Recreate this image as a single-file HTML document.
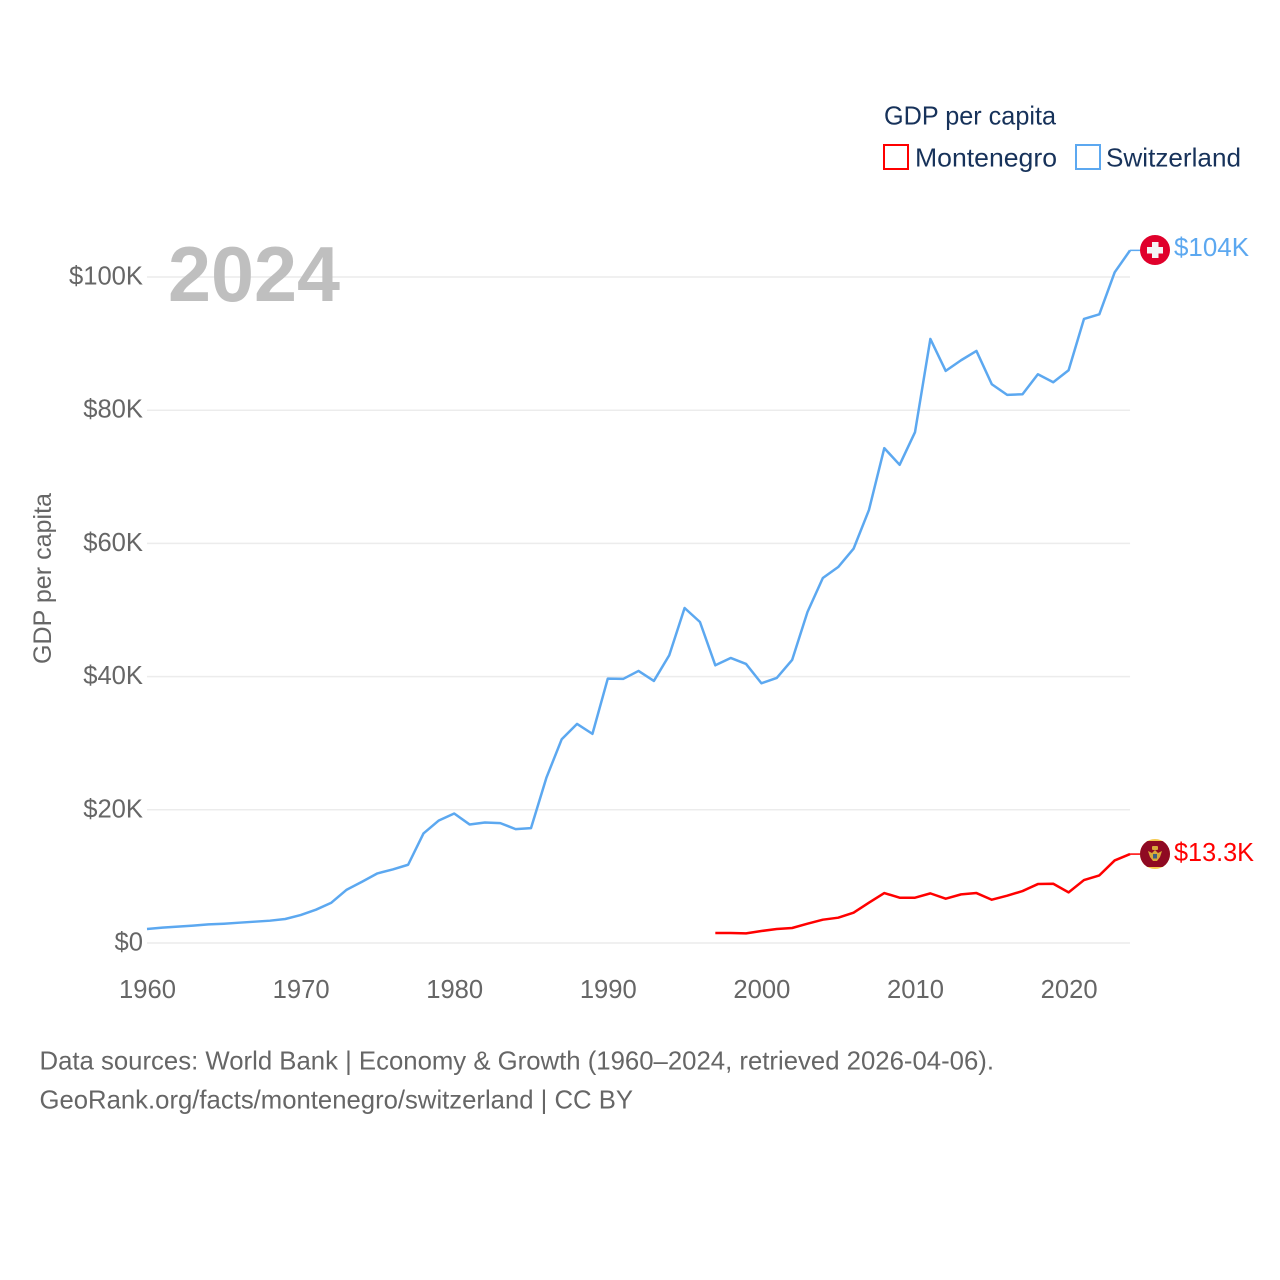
<!DOCTYPE html>
<html lang="en">
<head>
<meta charset="utf-8">
<title>GDP per capita: Montenegro and Switzerland</title>
<style>
html,body{margin:0;padding:0;background:#fff}
svg{display:block}
text{font-family:"Liberation Sans",sans-serif}
.tick{font-size:25.6px;fill:#666}
.legend{font-size:26px;fill:#17325a}
.foot{font-size:26px;fill:#666}
</style>
</head>
<body>
<svg id="chart" xmlns="http://www.w3.org/2000/svg" width="1280" height="1280" viewBox="0 0 1280 1280">
  <rect width="1280" height="1280" fill="#fff"/>
  <g id="grid"></g>
  <g id="yticks"></g>
  <g id="xticks"></g>
  <text x="168" y="301" font-size="78" font-weight="700" fill="#bfbfbf" textLength="172" lengthAdjust="spacingAndGlyphs">2024</text>
  <text transform="translate(51,664) rotate(-90)" font-size="25" fill="#666" textLength="171" lengthAdjust="spacingAndGlyphs">GDP per capita</text>

  <g id="series"></g>

  <g>
    <circle cx="1155" cy="250" r="15" fill="#e0002b"/>
    <rect x="1152" y="242" width="6.5" height="16" fill="#f4f4f4"/>
    <rect x="1147" y="247" width="16" height="6.5" fill="#f4f4f4"/>
  </g>
  <g>
    <clipPath id="me-clip"><circle cx="1155" cy="854" r="15"/></clipPath>
    <g clip-path="url(#me-clip)">
      <rect x="1140" y="839" width="30" height="30" fill="#f5c94e"/>
      <rect x="1140" y="841" width="30" height="26" fill="#8f0a22"/>
    </g>
    <path d="M1148 851 L1152 853 L1155 850 L1158 853 L1162 851 L1160 857 L1157 861 L1153 861 L1150 857 Z" fill="#d9a93a"/>
    <rect x="1152" y="846" width="6" height="4" rx="1" fill="#d9a93a"/>
    <rect x="1153" y="854" width="4" height="4.5" fill="#3f6080"/>
  </g>
  <text id="label-ch" x="1174" y="256" font-size="26" fill="#5ca8f0" textLength="75" lengthAdjust="spacingAndGlyphs">$104K</text>
  <text id="label-me" x="1174" y="861" font-size="26" fill="#ff0000" textLength="80" lengthAdjust="spacingAndGlyphs">$13.3K</text>

  <g>
    <text class="legend" x="884" y="124.5" textLength="172" lengthAdjust="spacingAndGlyphs">GDP per capita</text>
    <g>
      <rect x="884" y="145" width="24" height="24" fill="#fff" stroke="#ff0000" stroke-width="2"/>
      <text class="legend" x="915" y="166.5" textLength="142" lengthAdjust="spacingAndGlyphs">Montenegro</text>
    </g>
    <g>
      <rect x="1076" y="145" width="24" height="24" fill="#fff" stroke="#5ca8f0" stroke-width="2"/>
      <text class="legend" x="1106" y="166.5" textLength="135" lengthAdjust="spacingAndGlyphs">Switzerland</text>
    </g>
  </g>

  <text class="foot" x="39.5" y="1069.5" textLength="954.5" lengthAdjust="spacingAndGlyphs">Data sources: World Bank | Economy &amp; Growth (1960–2024, retrieved 2026-04-06).</text>
  <text class="foot" x="39.5" y="1108.5" textLength="593.5" lengthAdjust="spacingAndGlyphs">GeoRank.org/facts/montenegro/switzerland | CC BY</text>
</svg>
<script>
const switzerlandStartYear = 1960;
const switzerlandValues = [2.1,2.3,2.45,2.6,2.8,2.9,3.05,3.2,3.35,3.6,4.2,5.0,6.05,8.0,9.2,10.45,11.05,11.75,16.45,18.4,19.45,17.8,18.1,18.0,17.1,17.25,24.8,30.6,32.9,31.4,39.7,39.65,40.85,39.35,43.2,50.3,48.2,41.7,42.8,41.9,39.0,39.8,42.5,49.7,54.8,56.45,59.2,65.0,74.3,71.8,76.7,90.7,85.9,87.5,88.9,83.9,82.3,82.4,85.4,84.2,86.0,93.7,94.4,100.7,104.0];
const montenegroStartYear = 1997;
const montenegroValues = [1.5,1.5,1.45,1.8,2.1,2.25,2.9,3.5,3.8,4.55,6.05,7.5,6.8,6.8,7.45,6.65,7.3,7.5,6.5,7.1,7.8,8.85,8.9,7.6,9.45,10.15,12.4,13.35];
const yTickValues = [0,20,40,60,80,100];
const yTickLabels = ["$0","$20K","$40K","$60K","$80K","$100K"];
const xTickValues = [1960,1970,1980,1990,2000,2010,2020];
const xTickLabels = ["1960","1970","1980","1990","2000","2010","2020"];

const NS = 'http://www.w3.org/2000/svg';
const xScale = year => 147 + (year - 1960) * 15.36;
const yScale = value => 943 - value * 6.66;
const leaderEnd = 1140;

const grid = document.getElementById('grid');
const yticks = document.getElementById('yticks');
const xticks = document.getElementById('xticks');
const series = document.getElementById('series');

yTickValues.forEach((v, i) => {
  const line = document.createElementNS(NS, 'line');
  
  
  line.setAttribute('x1', xScale(1960));
  line.setAttribute('x2', xScale(2024));
  line.setAttribute('y1', yScale(v));
  line.setAttribute('y2', yScale(v));
  line.setAttribute('stroke', '#ececec');
  line.setAttribute('stroke-width', '1.5');
  grid.appendChild(line);

  const t = document.createElementNS(NS, 'text');
  
  
  t.setAttribute('class', 'tick');
  t.setAttribute('x', 143);
  t.setAttribute('y', yScale(v) + 7.5);
  t.setAttribute('text-anchor', 'end');
  t.textContent = yTickLabels[i];
  yticks.appendChild(t);
});

xTickValues.forEach((yr, i) => {
  const t = document.createElementNS(NS, 'text');
  
  
  t.setAttribute('class', 'tick');
  t.setAttribute('x', xScale(yr) + 0.5);
  t.setAttribute('y', 998);
  t.setAttribute('text-anchor', 'middle');
  t.textContent = xTickLabels[i];
  xticks.appendChild(t);
});

function drawSeries(values, startYear, color, name) {
  const pts = values.map((v, i) => xScale(startYear + i).toFixed(2) + ',' + yScale(v).toFixed(2));
  const path = document.createElementNS(NS, 'polyline');
  
  
  path.setAttribute('points', pts.join(' '));
  path.setAttribute('fill', 'none');
  path.setAttribute('stroke', color);
  path.setAttribute('stroke-width', '2.5');
  path.setAttribute('stroke-linejoin', 'round');
  series.appendChild(path);

  const last = values[values.length - 1];
  const leader = document.createElementNS(NS, 'line');
  
  
  leader.setAttribute('x1', xScale(startYear + values.length - 1));
  leader.setAttribute('x2', leaderEnd);
  leader.setAttribute('y1', yScale(last));
  leader.setAttribute('y2', yScale(last));
  leader.setAttribute('stroke', color);
  leader.setAttribute('stroke-width', '1.5');
  series.appendChild(leader);
}
drawSeries(switzerlandValues, switzerlandStartYear, '#5ca8f0', 'line-switzerland');
drawSeries(montenegroValues, montenegroStartYear, '#ff0000', 'line-montenegro');
</script>
</body>
</html>
